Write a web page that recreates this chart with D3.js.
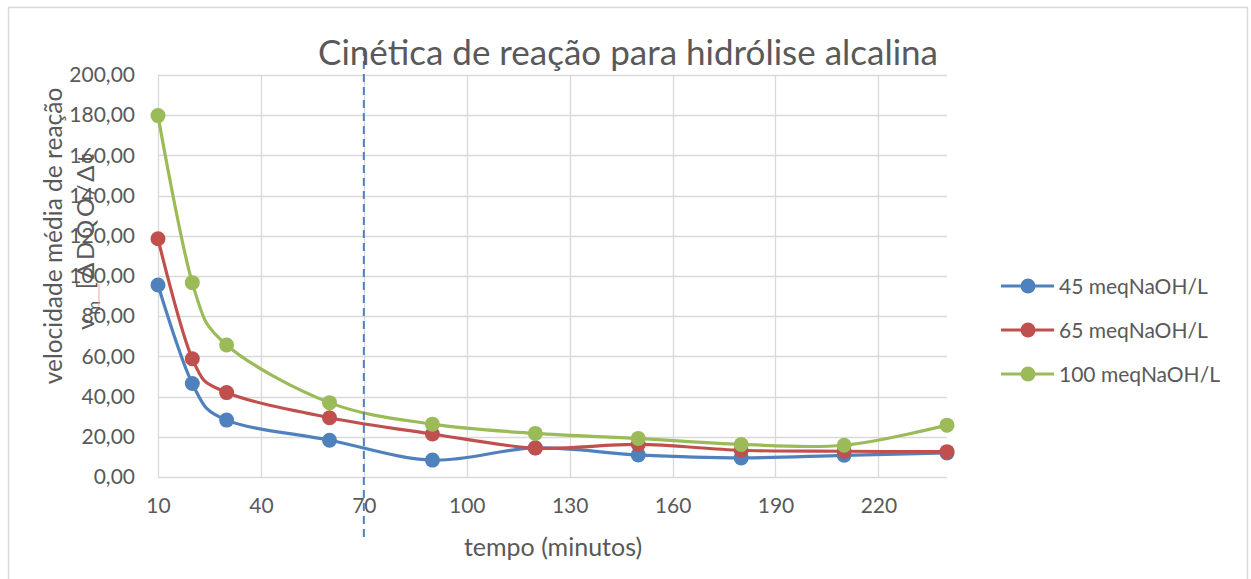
<!DOCTYPE html>
<html>
<head>
<meta charset="utf-8">
<script src="https://cdn.jsdelivr.net/npm/d3@7"></script>
<style>
  body { margin: 0; background: #fff; }
  svg text { font-family: Lato, "Noto Sans", sans-serif; fill: #595959; }
</style>
</head>
<body>
<svg id="chart" width="1251" height="579"></svg>
<script>
// data
const tempo = [10, 20, 30, 60, 90, 120, 150, 180, 210, 240];
const s45 = [95.5, 46.5, 28.3, 18.3, 8.4, 14.5, 11.0, 9.5, 10.8, 12.0];
const s65 = [118.5, 58.8, 42.0, 29.5, 21.4, 14.4, 16.2, 13.3, 12.8, 12.6];
const s100 = [179.8, 96.7, 65.7, 37.0, 26.3, 21.7, 19.2, 16.2, 15.8, 25.8];
const seriesNames = ["45 meqNaOH/L", "65 meqNaOH/L", "100 meqNaOH/L"];
const seriesColors = ["#4f81bd", "#c0504d", "#9bbb59"];
const xTicks = [10, 40, 70, 100, 130, 160, 190, 220];
const yTicks = [0, 20, 40, 60, 80, 100, 120, 140, 160, 180, 200];
const marcador = 70;

const series = [s45, s65, s100].map((vals, i) => ({
  name: seriesNames[i],
  color: seriesColors[i],
  pts: vals.map((v, j) => [tempo[j], v])
}));

const svg = d3.select("#chart");

// chart frame
svg.append("rect")
  .attr("x", 8.5).attr("y", 7.5)
  .attr("width", 1239).attr("height", 600)
  .attr("fill", "#fff").attr("stroke", "#d9d9d9").attr("stroke-width", 1.5);

let x = d3.scaleLinear().domain([10, 240]).range([158, 947]);
let y = d3.scaleLinear().domain([0, 200]).range([477, 75]);

const ptBR = d3.formatLocale({ decimal: ",", thousands: ".", grouping: [3], currency: ["", ""] });
const fmt = ptBR.format(".2f");

// grid
const grid = svg.append("g");
grid.selectAll("line.h").data(yTicks).enter().append("line")
  .attr("x1", x(10)).attr("x2", x(240))
  .attr("y1", d => Math.round(y(d)) + 0.5).attr("y2", d => Math.round(y(d)) + 0.5)
  .attr("stroke", "#d9d9d9").attr("stroke-width", 1.3);
grid.selectAll("line.v").data(xTicks).enter().append("line")
  .attr("x1", d => Math.round(x(d)) + 0.5).attr("x2", d => Math.round(x(d)) + 0.5)
  .attr("y1", y(200)).attr("y2", y(0))
  .attr("stroke", "#d9d9d9").attr("stroke-width", 1.3);

// axes (labels only, Excel style)
const yAxis = svg.append("g").attr("transform", "translate(" + x(10) + ",0)")
  .call(d3.axisLeft(y).tickValues(yTicks).tickFormat(fmt).tickSize(0).tickPadding(23));
yAxis.select(".domain").remove();
yAxis.selectAll("text").style("font-size", "21px").attr("fill", "#595959");

const xAxis = svg.append("g").attr("transform", "translate(0," + y(0) + ")")
  .call(d3.axisBottom(x).tickValues(xTicks).tickFormat(d3.format("d")).tickSize(0).tickPadding(21));
xAxis.select(".domain").remove();
xAxis.selectAll("text").style("font-size", "21px").attr("fill", "#595959");

// series
const line = d3.line().x(d => x(d[0])).y(d => y(d[1])).curve(d3.curveCatmullRom.alpha(0));
const sg = svg.append("g");
series.forEach(s => {
  sg.append("path").datum(s.pts)
    .attr("d", line).attr("fill", "none")
    .attr("stroke", s.color).attr("stroke-width", 3.2).attr("stroke-linecap", "round");
  sg.selectAll(null).data(s.pts).enter().append("circle")
    .attr("cx", d => x(d[0])).attr("cy", d => y(d[1])).attr("r", 7.5)
    .attr("fill", s.color);
});

// dashed marker line
svg.append("line")
  .attr("x1", x(marcador)).attr("x2", x(marcador))
  .attr("y1", 48).attr("y2", 538)
  .attr("stroke", "#4f81bd").attr("stroke-width", 2).attr("stroke-dasharray", "8,5");

// title
svg.append("text")
  .attr("x", 628).attr("y", 65).attr("text-anchor", "middle")
  .style("font-size", "35px")
  .text("Cinética de reação para hidrólise alcalina");

// axis titles
svg.append("text")
  .attr("x", 553).attr("y", 556).attr("text-anchor", "middle")
  .style("font-size", "25px")
  .text("tempo (minutos)");

svg.append("text")
  .attr("transform", "translate(62,236) rotate(-90)")
  .attr("text-anchor", "middle")
  .style("font-size", "24.5px")
  .text("velocidade média de reação");

const vm = svg.append("text")
  .attr("transform", "translate(94,330) rotate(-90)")
  .attr("text-anchor", "start")
  .attr("textLength", 176).attr("lengthAdjust", "spacing")
  .style("font-size", "24px");
vm.append("tspan").text("v");
vm.append("tspan").attr("dy", 6).style("font-size", "17px").text("m");
vm.append("tspan").attr("dy", -6).text(" [ΔDQO/Δt");
// spellcheck squiggle under the subscript
svg.append("line")
  .attr("x1", 99).attr("x2", 99).attr("y1", 284).attr("y2", 306)
  .attr("stroke", "#f4a3a3").attr("stroke-width", 1);

// legend
const leg = svg.append("g").selectAll("g").data(series).enter().append("g")
  .attr("transform", (d, i) => "translate(1001," + (286 + i * 44) + ")");
leg.append("line").attr("x1", 0).attr("x2", 53).attr("y1", 0).attr("y2", 0)
  .attr("stroke", d => d.color).attr("stroke-width", 3.2);
leg.append("circle").attr("cx", 27).attr("cy", 0).attr("r", 7.5).attr("fill", d => d.color);
leg.append("text").attr("x", 58).attr("y", 7.5).style("font-size", "21px").text(d => d.name);
</script>
</body>
</html>
